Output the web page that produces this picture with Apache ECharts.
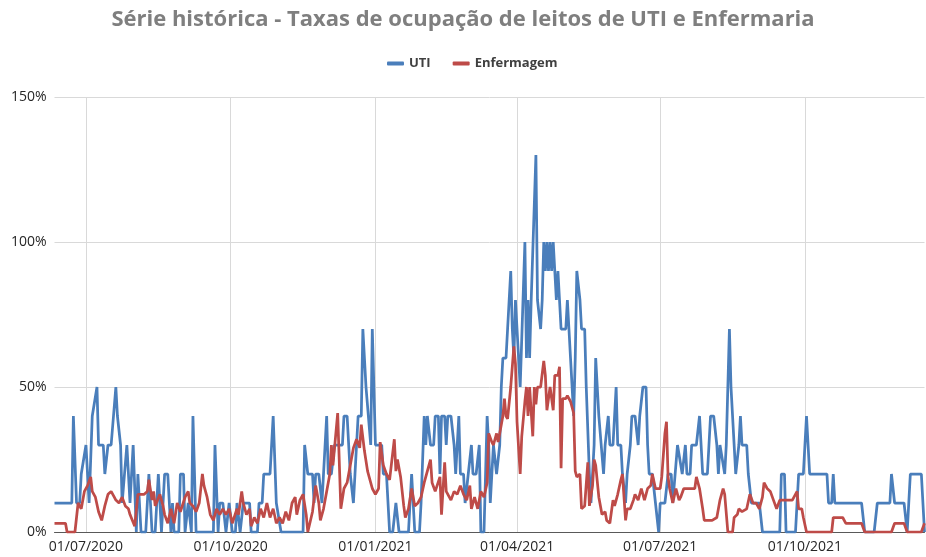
<!DOCTYPE html>
<html>
<head>
<meta charset="utf-8">
<script src="https://cdn.jsdelivr.net/npm/echarts@6/dist/echarts.min.js"></script>
<style>
  html, body { margin: 0; padding: 0; background: #fff; }
  #chart { width: 926px; height: 557px; }
</style>
</head>
<body>
<div id="chart"></div>
<script>
// daily axis starts 11/06/2020; day offsets below count from that date
const startDate = Date.UTC(2020, 5, 11);
const dayCount = 554;
const quarterMonths = ['01', '04', '07', '10'];
const yTicks = [0, 50, 100, 150];

// UTI (%)
const utiDays = [0,11,12,14,16,17,20,21,22,24,27,28,31,32,34,36,39,40,42,43,46,48,50,52,53,55,58,60,62,64,66,68,70,72,74,75,76,79,80,82,83,85,87,88,90,101,102,104,105,107,109,111,113,115,116,118,120,124,125,129,130,132,133,137,139,141,142,144,158,159,161,164,165,166,168,170,171,173,174,176,178,183,184,186,188,190,191,193,195,196,198,199,201,202,204,208,209,211,213,215,217,219,225,226,227,229,232,233,235,236,237,239,241,242,244,245,246,248,249,250,252,254,255,257,258,260,261,263,265,266,268,270,271,273,275,276,277,279,281,283,284,285,287,288,290,291,292,293,295,296,297,299,300,301,302,303,306,307,309,310,311,312,313,314,315,316,317,318,319,320,321,322,325,326,327,328,330,331,332,334,335,337,338,340,341,343,344,346,349,350,352,353,355,357,358,360,361,362,363,364,366,367,369,371,372,374,376,377,378,380,382,384,385,388,390,392,393,396,397,399,401,402,404,405,408,410,412,415,416,417,419,421,422,423,424,426,427,429,430,433,435,436,437,440,441,443,448,450,461,462,464,465,471,473,476,477,478,480,491,492,494,495,496,513,515,521,523,531,532,534,540,542,544,551,553];
const utiValues = [10,10,40,10,10,20,30,30,10,40,50,30,30,20,30,30,50,40,30,10,30,10,30,0,20,0,0,20,0,0,20,0,20,20,0,10,0,0,20,20,0,10,0,40,0,0,30,0,10,10,0,10,0,0,10,0,10,10,0,0,10,10,20,20,40,10,10,0,0,30,20,20,10,20,20,10,10,40,20,20,30,30,40,40,20,10,20,40,40,70,50,50,30,70,30,30,20,20,0,0,10,0,0,10,20,0,0,10,40,30,40,30,30,40,40,20,40,40,30,40,40,30,20,40,20,20,10,20,30,20,20,30,0,0,40,30,10,30,20,30,50,60,60,70,90,70,60,80,60,50,50,100,60,80,60,80,130,80,70,80,100,90,100,90,100,90,100,100,80,90,80,70,70,80,70,60,40,60,90,80,70,70,50,20,10,30,60,40,20,30,40,30,30,50,30,30,20,20,10,20,30,40,40,30,40,50,50,30,20,20,10,0,10,10,20,20,10,30,30,20,30,20,20,30,30,40,20,20,30,40,40,30,20,30,30,20,30,70,50,20,30,40,30,30,20,10,10,0,0,20,20,0,0,20,20,30,40,20,20,10,10,20,10,10,0,0,10,10,20,10,10,0,20,20,0];

// Enfermagem (%)
const enfDays = [0,7,8,13,15,17,19,21,23,24,26,28,30,32,34,36,38,39,41,43,45,47,48,51,53,57,59,60,62,63,64,67,69,70,72,74,76,78,80,83,85,86,88,90,92,94,95,97,99,101,103,105,107,109,111,113,116,117,119,120,122,124,125,127,129,131,133,135,137,139,141,143,145,147,149,151,153,154,156,158,160,161,164,166,168,169,171,173,175,176,177,179,180,182,184,186,188,190,192,194,195,197,199,202,204,206,207,209,211,213,216,217,218,220,222,223,225,227,229,231,233,235,237,239,240,242,245,246,248,249,252,254,256,258,260,262,264,265,267,269,271,273,275,276,278,279,281,282,283,285,286,287,288,290,292,293,294,296,297,299,300,301,302,304,305,306,307,309,311,312,313,315,317,318,320,321,322,323,325,326,328,330,331,332,334,335,337,339,340,342,343,344,346,348,350,351,353,355,356,358,360,361,363,364,366,368,369,371,373,375,376,377,379,380,382,385,386,388,389,390,391,393,395,397,398,400,403,405,407,408,410,412,413,418,421,423,425,426,428,431,432,434,435,437,438,440,442,444,446,448,450,451,453,455,457,459,461,466,469,472,473,475,476,478,494,495,501,503,513,515,532,534,540,542,551,553];
const enfValues = [3,3,0,0,10,8,14,16,19,14,12,7,4,9,13,14,12,11,10,12,9,8,6,2,13,13,14,18,11,14,9,13,9,6,3,8,3,10,7,12,14,10,9,7,10,20,16,12,6,4,8,6,8,6,8,3,8,6,14,10,6,8,2,5,3,8,5,10,5,8,3,5,3,7,4,10,12,6,11,13,6,0,7,16,10,4,8,14,20,30,23,35,41,8,15,17,23,29,32,29,37,28,21,15,13,15,31,23,20,18,32,21,25,19,9,5,8,15,9,10,12,17,21,25,17,14,19,6,24,14,11,14,13,16,13,11,16,8,12,8,14,12,17,34,31,30,34,31,31,40,46,40,39,50,64,58,38,20,33,45,50,40,50,33,50,44,50,50,59,54,42,50,42,54,54,57,22,46,46,47,45,41,21,19,20,8,9,24,9,16,25,23,12,6,7,4,3,11,9,13,18,20,4,8,8,11,13,11,15,11,13,15,16,20,15,15,19,34,38,19,15,10,15,11,12,15,15,15,15,19,15,8,4,4,5,11,15,13,0,0,5,6,8,7,7,8,13,10,10,8,12,17,15,14,11,8,11,11,11,14,8,8,5,0,0,5,5,3,3,0,0,3,3,0,0,3];

const dates = [];
for (let i = 0; i < dayCount; i++) {
    const d = new Date(startDate + i * 86400000);
    const dd = String(d.getUTCDate()).padStart(2, '0');
    const mm = String(d.getUTCMonth() + 1).padStart(2, '0');
    dates.push(dd + '/' + mm + '/' + d.getUTCFullYear());
}

function isQuarterStart(index, value) {
    const v = dates[index];
    return v.slice(0, 2) === '01' && quarterMonths.indexOf(v.slice(3, 5)) >= 0;
}

const chart = echarts.init(document.getElementById('chart'));
const option = {
    animation: false,
    textStyle: { fontFamily: 'Open Sans' },
    title: {
        text: 'Série histórica - Taxas de ocupação de leitos de UTI e Enfermaria',
        left: 'center',
        top: 4,
        textStyle: { color: '#7f7f7f', fontSize: 22, fontWeight: 'bold', fontFamily: 'Open Sans' }
    },
    legend: {
        left: 382,
        top: 52,
        itemWidth: 17,
        itemHeight: 4,
        itemGap: 22,
        icon: 'roundRect',
        textStyle: { color: '#404040', fontSize: 13, fontWeight: 'bold' },
        data: ['UTI', 'Enfermagem']
    },
    grid: { left: 54.5, right: 1.5, top: 97, bottom: 25 },
    xAxis: {
        type: 'category',
        data: dates,
        boundaryGap: false,
        axisLine: { lineStyle: { color: '#595959', width: 1 } },
        axisTick: { show: false },
        axisLabel: { interval: isQuarterStart, color: '#262626', fontSize: 14, margin: 8 },
        splitLine: { show: true, interval: isQuarterStart, lineStyle: { color: '#d9d9d9', width: 1 } }
    },
    yAxis: {
        type: 'value',
        min: yTicks[0],
        max: yTicks[yTicks.length - 1],
        interval: 50,
        axisLine: { show: false },
        axisTick: { show: false },
        axisLabel: { formatter: '{value}%', color: '#262626', fontSize: 14, margin: 8 },
        splitLine: { lineStyle: { color: '#d9d9d9', width: 1 } }
    },
    series: [
        {
            name: 'UTI',
            type: 'line',
            data: utiDays.map((d, i) => [d, utiValues[i]]),
            showSymbol: false,
            color: '#4a7ebb',
            lineStyle: { width: 2.75, color: '#4a7ebb' }
        },
        {
            name: 'Enfermagem',
            type: 'line',
            data: enfDays.map((d, i) => [d, enfValues[i]]),
            showSymbol: false,
            color: '#be4b48',
            lineStyle: { width: 2.75, color: '#be4b48' }
        }
    ]
};
chart.setOption(option);
window.addEventListener('resize', function () {
    chart.resize();
});
</script>
</body>
</html>
